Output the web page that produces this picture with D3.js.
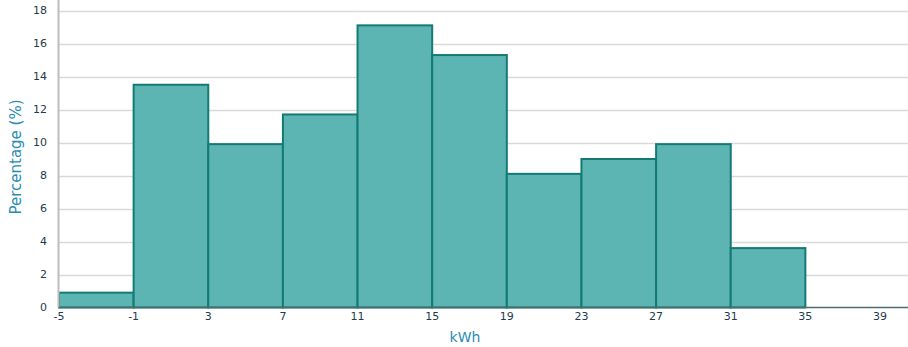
<!DOCTYPE html>
<html>
<head>
<meta charset="utf-8">
<script src="https://cdn.jsdelivr.net/npm/d3@7/dist/d3.min.js"></script>
<style>
  html, body { margin: 0; padding: 0; background: #fff; }
  svg { display: block; }
</style>
</head>
<body>
<svg id="chart" width="908" height="347"></svg>
<script>
// Histogram bins (kWh) and share of observations in each bin (%)
const binStarts = [-5, -1, 3, 7, 11, 15, 19, 23, 27, 31];
const binWidth = 4;
const percentages = [0.9, 13.5, 9.9, 11.7, 17.1, 15.3, 8.1, 9.0, 9.9, 3.6];
const xTicks = [-5, -1, 3, 7, 11, 15, 19, 23, 27, 31, 35, 39];
const yTicks = [0, 2, 4, 6, 8, 10, 12, 14, 16, 18];

const svg = d3.select("#chart");
const W = 908, H = 347;
const margin = { left: 59, right: 0, top: 10, bottom: 40 };

const x = d3.scaleLinear().domain([-5, 40.5]).range([margin.left, W - margin.right]);
const y = d3.scaleLinear().domain([0, 18]).range([H - margin.bottom + 0.5, margin.top + 0.5]);

const font = "'DejaVu Sans', Verdana, sans-serif";

// Horizontal gridlines
svg.append("g")
  .selectAll("line")
  .data(yTicks.slice(1))
  .join("line")
  .attr("x1", margin.left)
  .attr("x2", W)
  .attr("y1", d => Math.round(y(d)) + 0.5)
  .attr("y2", d => Math.round(y(d)) + 0.5)
  .attr("stroke", "#d9d9d9")
  .attr("stroke-width", 1.5);

// Bars
svg.append("g")
  .selectAll("rect")
  .data(binStarts.map((s, i) => ({ s, v: percentages[i] })))
  .join("rect")
  .attr("x", d => x(d.s))
  .attr("width", d => x(d.s + binWidth) - x(d.s))
  .attr("y", d => y(d.v))
  .attr("height", d => y(0) - y(d.v))
  .attr("fill", "#5cb5b2")
  .attr("stroke", "#137a74")
  .attr("stroke-width", 2);

// Y axis line
svg.append("line")
  .attr("x1", margin.left - 0.5).attr("x2", margin.left - 0.5)
  .attr("y1", 0).attr("y2", y(0))
  .attr("stroke", "#bdbdbd").attr("stroke-width", 2);

// X baseline
svg.append("line")
  .attr("x1", margin.left).attr("x2", W)
  .attr("y1", y(0)).attr("y2", y(0))
  .attr("stroke", "#4d6b6b").attr("stroke-width", 1.5);

// Y tick labels
svg.append("g")
  .selectAll("text")
  .data(yTicks)
  .join("text")
  .attr("x", 47)
  .attr("y", d => y(d))
  .attr("dy", "0.35em")
  .attr("text-anchor", "end")
  .attr("font-family", font)
  .attr("font-size", 11)
  .attr("fill", "#1f3a4d")
  .text(d => d);

// X tick labels
svg.append("g")
  .selectAll("text")
  .data(xTicks)
  .join("text")
  .attr("x", d => x(d))
  .attr("y", 320)
  .attr("text-anchor", "middle")
  .attr("font-family", font)
  .attr("font-size", 11)
  .attr("fill", "#1f3a4d")
  .text(d => d);

// Axis titles
svg.append("text")
  .attr("x", 465)
  .attr("y", 342)
  .attr("text-anchor", "middle")
  .attr("font-family", font)
  .attr("font-size", 14)
  .attr("fill", "#2a8cb3")
  .text("kWh");

svg.append("text")
  .attr("transform", "translate(21,157) rotate(-90)")
  .attr("text-anchor", "middle")
  .attr("font-family", font)
  .attr("font-size", 15)
  .attr("fill", "#2a8cb3")
  .text("Percentage (%)");
</script>
</body>
</html>
